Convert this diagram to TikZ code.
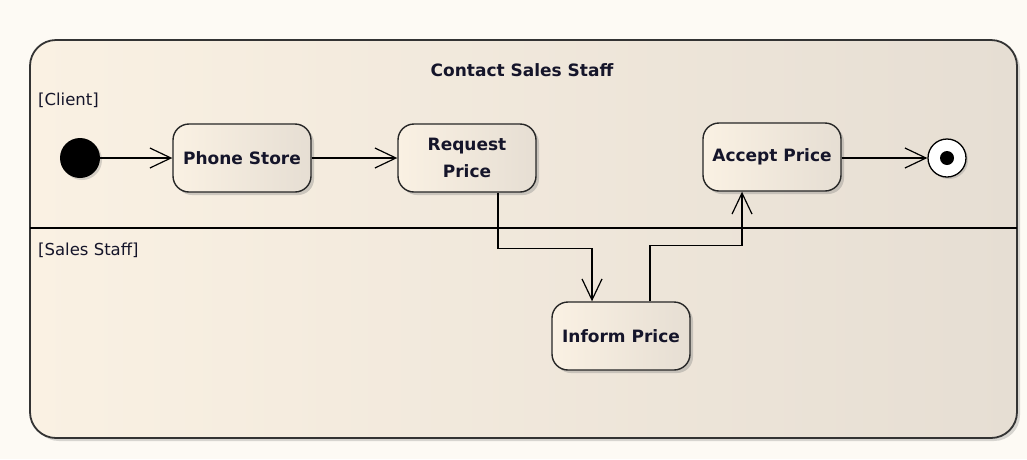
\documentclass[tikz,border=0pt]{standalone}
\usepackage{fontspec}
\setmainfont{DejaVu Sans}
\usetikzlibrary{arrows.meta,shadows,calc}
\definecolor{bgout}{HTML}{FDFAF4}
\definecolor{fillL}{HTML}{FAF1E3}
\definecolor{fillR}{HTML}{E6DED3}
\definecolor{txt}{HTML}{15152A}
\tikzset{
  act/.style={draw=black!85, line width=1.4pt, rounded corners=16pt,
    left color=fillL, right color=fillR, minimum width=138pt, minimum height=68pt,
    inner sep=0pt, align=center, text=txt,
    font=\bfseries\fontsize{17}{27}\selectfont,
    drop shadow={shadow xshift=3pt, shadow yshift=-3pt, opacity=0.35, fill=gray}},
  arr/.style={draw=black, line width=1.2pt, -{Straight Barb[length=21pt,width=20pt]}},
  lane/.style={anchor=west, inner sep=0pt, text=txt, font=\fontsize{16.5}{19}\selectfont}
}
\begin{document}
\begin{tikzpicture}[x=1pt,y=-1pt]
\useasboundingbox (0,0) rectangle (1027,459);
\fill[bgout] (0,0) rectangle (1027,459);
% frame
\path[draw=black!80, line width=1.8pt, rounded corners=26pt, left color=fillL, right color=fillR,
  drop shadow={shadow xshift=3pt, shadow yshift=-3pt, opacity=0.3, fill=gray}]
  (30,40) rectangle (1017,438);
\draw[line width=1.2pt, black] (30,228) -- (1017,228);
\node[font=\bfseries\fontsize{17}{20}\selectfont, text=txt] (title) at (522,70) {Contact Sales Staff};
\node[lane] (client) at (38,100) {[Client]};
\node[lane] (staff) at (38,250) {[Sales Staff]};
% nodes
\node[circle, fill=black, minimum size=40pt, inner sep=0pt,
  drop shadow={shadow xshift=2pt, shadow yshift=-2pt, opacity=0.3, fill=gray}] (init) at (80,158) {};
\node[act] (phone) at (242,158) {Phone Store};
\node[act] (req) at (467,158) {Request\\Price};
\node[act] (accept) at (772,157) {Accept Price};
\node[act] (inform) at (621,336) {Inform Price};
\node[circle, draw=black, line width=1.3pt, fill=white, minimum size=38pt, inner sep=0pt,
  drop shadow={shadow xshift=2pt, shadow yshift=-2pt, opacity=0.3, fill=gray}] (final) at (947,158) {};
\node[circle, fill=black, minimum size=14pt, inner sep=0pt] (finaldot) at (final.center) {};
% connectors
\draw[arr] (init) -- (phone);
\draw[arr] (phone) -- (req);
\draw[arr] ([xshift=31pt]req.south) -- ++(0,56) -| ([xshift=-29pt]inform.north);
\draw[arr] ([xshift=29pt]inform.north) -- ++(0,-56) -| ([xshift=-30pt]accept.south);
\draw[arr] (accept.east |- final) -- (final.west);
\end{tikzpicture}
\end{document}
